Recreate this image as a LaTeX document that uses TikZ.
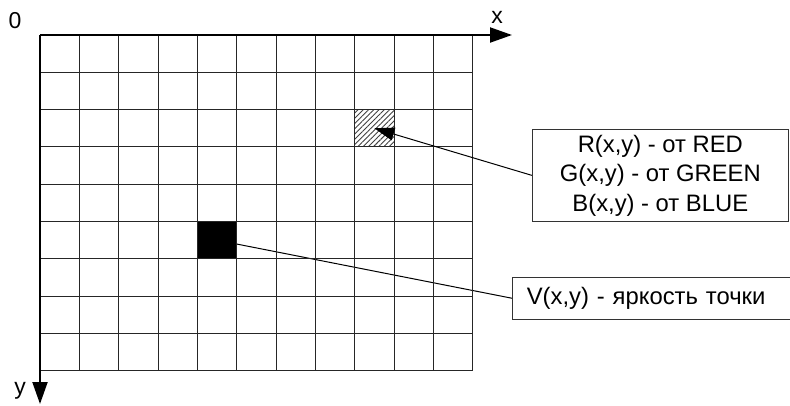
\documentclass[tikz,border=0pt]{standalone}
\usepackage{fontspec}
\setmainfont{Liberation Sans}
\usetikzlibrary{arrows.meta,patterns.meta,backgrounds}

\begin{document}
\begin{tikzpicture}[x=1pt,y=-1pt,
  gridline/.style={line width=1pt,black!85},
  axisline/.style={line width=2pt,black},
  cellbox/.style={draw=black!85,line width=1pt,minimum width=39.336pt,minimum height=37.3pt,inner sep=0pt},
  callout/.style={draw=black!80,line width=1pt,font=\fontsize{23.8}{29.5}\selectfont,inner sep=0pt},
  axislabel/.style={font=\fontsize{23}{26}\selectfont,inner sep=0pt},
  leader/.style={line width=1pt,black},
  bigtip/.style={-{Triangle[length=22pt,width=15pt]}},
  smalltip/.style={-{Triangle[length=20pt,width=13pt]}}
]
\useasboundingbox (0,0) rectangle (790,405);

% raster grid: 11 columns x 9 rows
\foreach \i in {0,...,11}
  \draw[gridline] ({40+\i*39.336},35) -- ({40+\i*39.336},370.7);
\foreach \j in {0,...,9}
  \draw[gridline] (40,{35+\j*37.3}) -- (472.7,{35+\j*37.3});

% highlighted pixels
\node[cellbox,pattern={Lines[angle=45,distance=3.7pt,line width=0.9pt]},pattern color=black!75] (rgbpix) at (374.35,128.25) {};
\node[cellbox,fill=black] (vpix) at (217.0,240.15) {};

% axes
\coordinate (o) at (40,35);
\coordinate (xend) at (512,35);
\coordinate (yend) at (40,404);
\draw[axisline,bigtip] (o) -- (xend);
\draw[axisline,bigtip] (o) -- (yend);
\node[axislabel] (zero) at (15,21) {0};
\node[axislabel] (xlab) at (497,17) {x};
\node[axislabel] (ylab) at (20,391) {y};

% callouts
\node[callout,minimum width=256pt,minimum height=92.7pt,align=center] (rgbnote) at (660.3,175.35)
  {R(x,y) - от RED\\G(x,y) - от GREEN\\B(x,y) - от BLUE};
\node[callout,anchor=west,minimum height=42pt,inner xsep=14pt,text width=272pt,align=left] (vnote) at (512.3,298.3)
  {V(x,y) - яркость точки};

\draw[leader,smalltip] (rgbnote.west) -- (rgbpix.center);
\begin{scope}[on background layer]
  \draw[leader] (vnote.west) -- (vpix.center);
\end{scope}
\end{tikzpicture}
\end{document}
